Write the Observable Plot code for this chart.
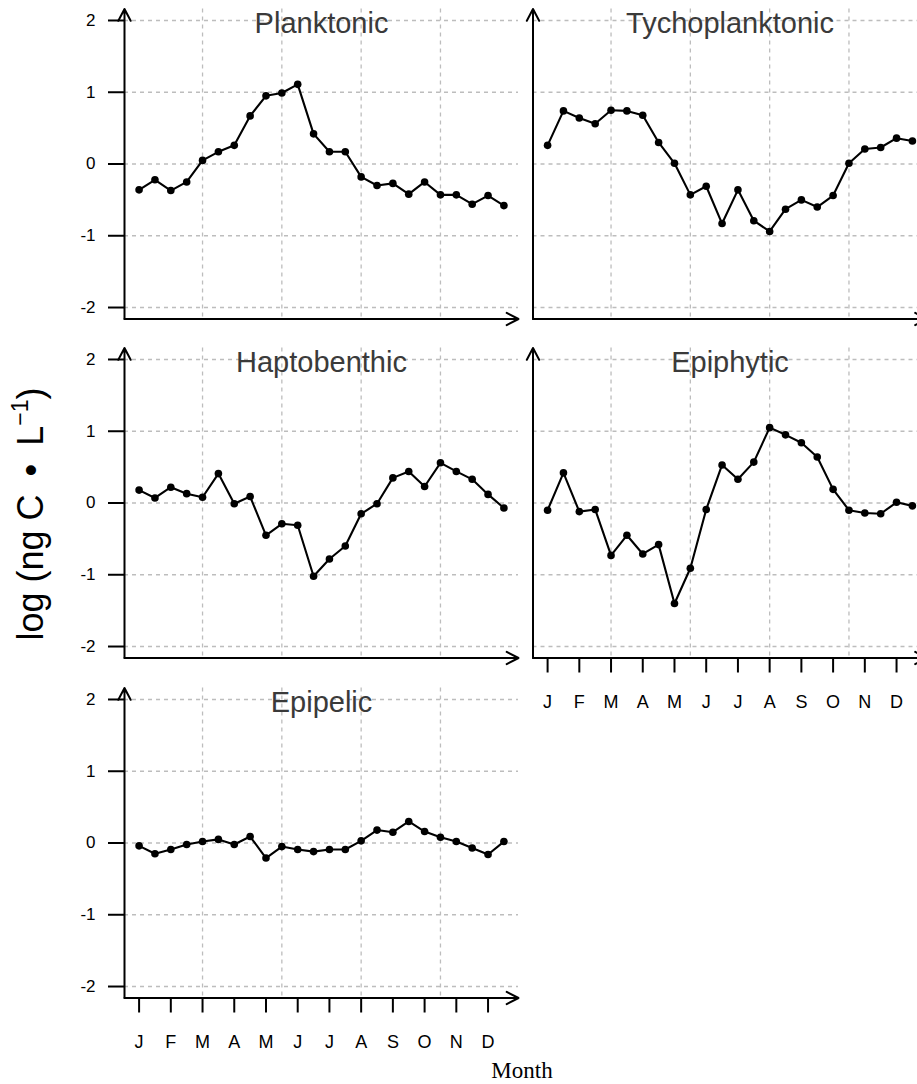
<!DOCTYPE html>
<html><head><meta charset="utf-8">
<script src="https://cdn.jsdelivr.net/npm/d3@7"></script>
<script src="https://cdn.jsdelivr.net/npm/@observablehq/plot@0.6"></script>
<style>
html,body{margin:0;padding:0;background:#fff;overflow:hidden;}
#wrap{position:relative;width:917px;height:1084px;overflow:hidden;background:#fff;}
.pane{position:absolute;}
</style></head><body><div id="wrap"></div>
<script>
// ---- data ----
const monthLabels = ["J","F","M","A","M","J","J","A","S","O","N","D"];
const halfMonth = d3.range(1, 25);              // 24 semi-monthly samples
const monthTicks = [1,3,5,7,9,11,13,15,17,19,21,23];
const gridXTicks = [5,10,15,20];
const yTicks = [-2,-1,0,1,2];

const panelNames = ["Planktonic","Tychoplanktonic","Haptobenthic","Epiphytic","Epipelic"];
const planktonic = [-0.36,-0.22,-0.37,-0.25,0.05,0.17,0.26,0.67,0.95,0.99,1.11,0.42,0.17,0.17,-0.18,-0.30,-0.27,-0.42,-0.25,-0.43,-0.43,-0.56,-0.44,-0.58];
const tychoplanktonic = [0.26,0.74,0.64,0.56,0.75,0.74,0.68,0.30,0.01,-0.43,-0.31,-0.83,-0.36,-0.79,-0.94,-0.63,-0.50,-0.60,-0.44,0.01,0.21,0.23,0.36,0.32];
const haptobenthic = [0.18,0.07,0.22,0.13,0.08,0.41,-0.01,0.09,-0.45,-0.29,-0.31,-1.02,-0.78,-0.60,-0.15,-0.01,0.35,0.44,0.23,0.56,0.44,0.33,0.12,-0.07];
const epiphytic = [-0.10,0.42,-0.12,-0.09,-0.73,-0.45,-0.71,-0.58,-1.40,-0.91,-0.09,0.53,0.33,0.57,1.05,0.95,0.84,0.64,0.19,-0.10,-0.14,-0.15,0.01,-0.04];
const epipelic = [-0.04,-0.15,-0.09,-0.02,0.02,0.05,-0.02,0.09,-0.21,-0.05,-0.09,-0.12,-0.09,-0.09,0.03,0.18,0.15,0.30,0.16,0.08,0.02,-0.07,-0.16,0.02];

// ---- layout ----
const XD = [0.08, 24.92];
const YD = [-2.16, 2.16];
const plotW = 394, plotH = 310;
const FONT = "'Liberation Sans', Arial, Helvetica, sans-serif";
const wrap = document.getElementById("wrap");

function panel(title, values, o) {
  const data = values.map((v, i) => ({x: halfMonth[i], y: v}));
  const grid = {stroke: "#bdbdbd", strokeOpacity: 1, strokeDasharray: "4,4", strokeWidth: 1.3};
  const marks = [
    Plot.gridY(yTicks, grid),
    Plot.gridX(gridXTicks, grid),
    Plot.arrow([{x1: XD[0], y1: YD[0], x2: XD[1], y2: YD[0]}, {x1: XD[0], y1: YD[0], x2: XD[0], y2: YD[1]}],
      {x1: "x1", y1: "y1", x2: "x2", y2: "y2", stroke: "black", strokeWidth: 2, headLength: 10, headAngle: 55}),
    Plot.line(data, {x: "x", y: "y", stroke: "black", strokeWidth: 2.1}),
    Plot.dot(data, {x: "x", y: "y", r: 3.8, fill: "black", stroke: "none"}),
    Plot.text([title], {text: d => d, frameAnchor: "top", lineAnchor: "bottom", dy: 24, fontSize: 29, fill: "#3a3a3a"})
  ];
  if (o.showY) marks.push(Plot.axisY(yTicks, {tickSize: 16, tickPadding: 13, fontSize: 17, strokeWidth: 2, stroke: "black", tickFormat: d => String(d), label: null}));
  if (o.showX) marks.push(Plot.axisX(monthTicks, {tickSize: 15, tickPadding: 22, fontSize: 18, strokeWidth: 2, stroke: "black", tickFormat: d => monthLabels[(d - 1) / 2], label: null}));
  const mr = 20, mb = 90, mt = 8.5;
  const svg = Plot.plot({
    width: o.ml + plotW + mr,
    height: mt + plotH + mb,
    marginLeft: o.ml, marginRight: mr, marginTop: mt, marginBottom: mb,
    x: {domain: XD, axis: o.showX ? undefined : null},
    y: {domain: YD, axis: o.showY ? undefined : null},
    style: {background: "none", maxWidth: "none", overflow: "visible", fontFamily: FONT, color: "black"},
    marks
  });
  // force tick-label font sizes on the text elements themselves
  const ySet = new Set(yTicks.map(String));
  const mSet = new Set(monthLabels);
  d3.select(svg).selectAll("text").each(function() {
    const t = this.textContent;
    const isTitle = t === title;
    if (isTitle) return;
    if (ySet.has(t)) d3.select(this).attr("font-size", 17).style("font-size", "17px");
    else if (mSet.has(t)) d3.select(this).attr("font-size", 18).style("font-size", "18px");
  });
  svg.classList.add("pane");
  svg.style.left = o.left + "px";
  svg.style.top = o.top + "px";
  svg.style.position = "absolute";
  wrap.appendChild(svg);
}

const rowTops = [0, 339.3, 679];
panel(panelNames[0], planktonic,      {left: 0,   top: rowTops[0], ml: 124,  showY: true,  showX: false});
panel(panelNames[1], tychoplanktonic, {left: 520, top: rowTops[0], ml: 12.5, showY: false, showX: false});
panel(panelNames[2], haptobenthic,    {left: 0,   top: rowTops[1], ml: 124,  showY: true,  showX: false});
panel(panelNames[3], epiphytic,       {left: 520, top: rowTops[1], ml: 12.5, showY: false, showX: true});
panel(panelNames[4], epipelic,        {left: 0,   top: rowTops[2], ml: 124,  showY: true,  showX: true});

// ---- outer labels ----
const ov = d3.create("svg").attr("width", 917).attr("height", 1084)
  .style("position", "absolute").style("left", "0px").style("top", "0px").style("pointer-events", "none");
const yl = ov.append("text")
  .attr("transform", "translate(43,514) rotate(-90)")
  .attr("text-anchor", "middle")
  .attr("font-family", FONT).attr("font-size", 36).attr("fill", "black");
yl.append("tspan").text("log (ng C\u2002\u2022\u2002L");
yl.append("tspan").attr("dy", -15).attr("font-size", 23).text("\u22121");
yl.append("tspan").attr("dy", 15).text(")");
ov.append("text").attr("x", 522).attr("y", 1078).attr("text-anchor", "middle")
  .attr("font-family", "'Liberation Serif', 'Times New Roman', serif").attr("font-size", 23).attr("fill", "black").text("Month");
wrap.appendChild(ov.node());
</script></body></html>
